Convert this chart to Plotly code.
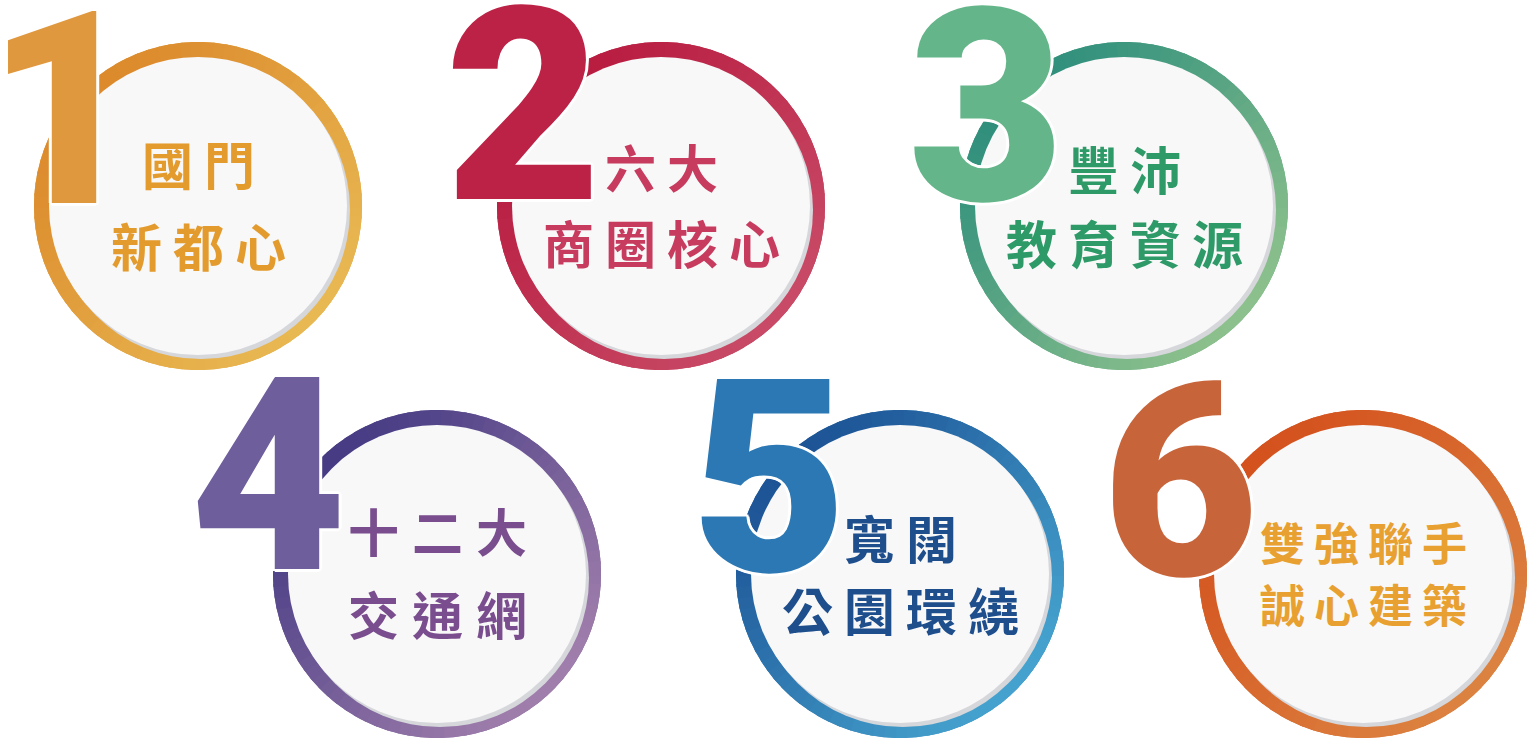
#!/usr/bin/env python3
"""Six numbered selling points, each in a gradient ring badge."""

import numpy as np
import plotly.graph_objects as go

# ---- content -------------------------------------------------------------
NUMBERS = ["1", "2", "3", "4", "5", "6"]
LINE1 = ["國門", "六大", "豐沛", "十二大", "寬闊", "雙強聯手"]
LINE2 = ["新都心", "商圈核心", "教育資源", "交通網", "公園環繞", "誠心建築"]

# ---- styling -------------------------------------------------------------
RING_START = ["#DC8A2C", "#B81C40", "#2F8F7C", "#473C84", "#1D5496", "#D4521E"]
RING_END = ["#E8B852", "#C84A66", "#8CC08C", "#A07EAC", "#45A2CE", "#DC8240"]
NUM_COLOR = ["#E0983E", "#BC2246", "#64B589", "#6E5E9C", "#2B78B4", "#C8643A"]
TEXT_COLOR = ["#E39B2E", "#C73B5F", "#2E9A68", "#7A4E8E", "#1E4E8C", "#E8A030"]
TEXT_SIZE = [51, 51, 51, 51, 51, 45]
TEXT_PITCH = [62, 62, 62, 64, 62, 54]
TEXT_DY = [(-43, 39), (-40, 36), (-38, 36), (-44, 39), (-37, 35), (-33, 29)]
NUM_OFFSET = [(-134, -99), (-138, -103), (-138, -102), (-169, -101), (-131, -99), (-183, -95)]

W, H = 1528, 738
R_OUT, R_IN = 164, 149
ROW_Y = [206, 574]
ROW_X0 = [198, 437]
STEP = 463


def centers():
    out = []
    for row in range(2):
        for col in range(3):
            out.append((ROW_X0[row] + col * STEP, ROW_Y[row]))
    return out


def mix(c1, c2, t):
    a = [int(c1[i:i + 2], 16) for i in (1, 3, 5)]
    b = [int(c2[i:i + 2], 16) for i in (1, 3, 5)]
    return "#" + "".join(f"{round(x + (y - x) * t):02x}" for x, y in zip(a, b))


def ring_shapes(cx, cy, c1, c2, n=90):
    shapes = [dict(type="circle", xref="x", yref="y", x0=cx - R_OUT, x1=cx + R_OUT,
                   y0=cy - R_OUT, y1=cy + R_OUT, fillcolor=mix(c1, c2, 0.5),
                   line=dict(width=0), layer="above")]
    step = 2 * np.pi / n
    for k in range(n):
        a0 = k * step - 0.01
        a1 = (k + 1) * step + 0.01
        mid = (a0 + a1) / 2
        t = ((np.cos(mid) + np.sin(mid)) / np.sqrt(2) + 1) / 2
        pts = [(cx, cy)]
        for a in np.linspace(a0, a1, 4):
            pts.append((cx + R_OUT * np.cos(a), cy + R_OUT * np.sin(a)))
        path = "M " + " L ".join(f"{x:.2f},{y:.2f}" for x, y in pts) + " Z"
        shapes.append(dict(type="path", xref="x", yref="y", path=path,
                           fillcolor=mix(c1, c2, t), line=dict(width=0), layer="above"))
    # soft shadow + white face
    shapes.append(dict(type="circle", xref="x", yref="y", x0=cx - R_IN + 3, x1=cx + R_IN + 3,
                       y0=cy - R_IN + 4, y1=cy + R_IN + 4, fillcolor="#D6D7DB",
                       line=dict(width=0), layer="above"))
    shapes.append(dict(type="circle", xref="x", yref="y", x0=cx - R_IN, x1=cx + R_IN,
                       y0=cy - R_IN, y1=cy + R_IN, fillcolor="#F8F8F9",
                       line=dict(width=0), layer="above"))
    return shapes


def build_figure():
    fig = go.Figure()
    fig.add_trace(go.Scatter(x=[], y=[], mode="markers", showlegend=False))
    shapes = []
    annotations = []
    outline = ", ".join(f"{dx}px {dy}px 0 #ffffff" for dx, dy in
                        [(3, 0), (-3, 0), (0, 3), (0, -3), (2, 2), (-2, -2), (2, -2), (-2, 2)])
    for i, (cx, cy) in enumerate(centers()):
        shapes += ring_shapes(cx, cy, RING_START[i], RING_END[i])
        ox, oy = NUM_OFFSET[i]
        annotations.append(dict(
            x=cx + ox, y=cy + oy + 4, xref="x", yref="y", text=NUMBERS[i], showarrow=False,
            xanchor="center", yanchor="middle",
            font=dict(family="Roboto, Lato, 'Liberation Sans', sans-serif", size=270,
                      weight=900, color=NUM_COLOR[i], shadow=outline),
        ))
        for line, dy in zip((LINE1[i], LINE2[i]), TEXT_DY[i]):
            n = len(line)
            for j, ch in enumerate(line):
                annotations.append(dict(
                    x=cx + (j - (n - 1) / 2) * TEXT_PITCH[i], y=cy + dy, xref="x", yref="y",
                    text=ch, showarrow=False, xanchor="center", yanchor="middle",
                    font=dict(family="Noto Sans CJK TC, Noto Sans CJK SC", size=TEXT_SIZE[i],
                              weight="bold", color=TEXT_COLOR[i]),
                ))

    fig.update_layout(
        width=W, height=H, autosize=False,
        margin=dict(l=0, r=0, t=0, b=0),
        paper_bgcolor="#FFFFFF", plot_bgcolor="#FFFFFF",
        xaxis=dict(range=[0, W], visible=False, fixedrange=True),
        yaxis=dict(range=[H, 0], visible=False, fixedrange=True),
        shapes=shapes, annotations=annotations, showlegend=False,
    )
    return fig


def main():
    fig = build_figure()
    # drop the browser's default 8px body margin so the figure fills the window
    fig.write_html("out.html", config={"displayModeBar": False},
                   post_script="document.body.style.margin='0';")


if __name__ == "__main__":
    main()
